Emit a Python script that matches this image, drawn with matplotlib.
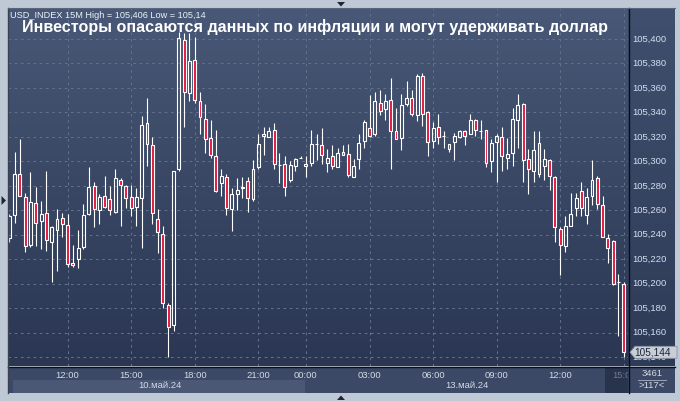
import numpy as np
import matplotlib
matplotlib.use('Agg')
import matplotlib.pyplot as plt
from matplotlib.colors import LinearSegmentedColormap
from matplotlib.patches import Polygon, Rectangle
from matplotlib.lines import Line2D
import matplotlib.transforms as mtransforms

# ---------------- data (USD_INDEX, 15M candles) ----------------
opens = [105.237, 105.256, 105.290, 105.271, 105.232, 105.266, 105.251, 105.258, 105.234, 105.244,
         105.254, 105.248, 105.217, 105.220, 105.230, 105.257, 105.280, 105.260, 105.272, 105.269,
         105.259, 105.285, 105.280, 105.271, 105.263, 105.270, 105.331, 105.313, 105.253, 105.241,
         105.183, 105.166, 105.294, 105.399, 105.356, 105.383, 105.349, 105.335, 105.319, 105.304,
         105.282, 105.287, 105.261, 105.273, 105.278, 105.284, 105.269, 105.295, 105.321, 105.320,
         105.326, 105.297, 105.298, 105.285, 105.296, 105.303, 105.296, 105.299, 105.314, 105.313,
         105.299, 105.304, 105.295, 105.308, 105.306, 105.287, 105.302, 105.317, 105.327, 105.322,
         105.348, 105.343, 105.350, 105.325, 105.319, 105.347, 105.352, 105.338, 105.370, 105.340,
         105.317, 105.328, 105.321, 105.314, 105.316, 105.320, 105.325, 105.322, 105.334, 105.325,
         105.326, 105.300, 105.316, 105.320, 105.303, 105.307, 105.334, 105.347, 105.302, 105.292,
         105.315, 105.296, 105.301, 105.287, 105.245, 105.231, 105.247, 105.262, 105.276, 105.256,
         105.272, 105.286, 105.264, 105.237, 105.235, 105.201, 105.200]
highs = [105.257, 105.308, 105.318, 105.274, 105.291, 105.279, 105.268, 105.292, 105.247, 105.261,
         105.258, 105.257, 105.232, 105.244, 105.265, 105.295, 105.283, 105.273, 105.288, 105.280,
         105.294, 105.286, 105.281, 105.281, 105.278, 105.337, 105.352, 105.320, 105.261, 105.247,
         105.184, 105.292, 105.406, 105.405, 105.405, 105.402, 105.357, 105.347, 105.334, 105.326,
         105.294, 105.290, 105.278, 105.286, 105.287, 105.287, 105.301, 105.322, 105.328, 105.328,
         105.331, 105.307, 105.304, 105.300, 105.303, 105.304, 105.304, 105.326, 105.322, 105.327,
         105.310, 105.313, 105.311, 105.313, 105.314, 105.302, 105.322, 105.334, 105.354, 105.357,
         105.358, 105.355, 105.368, 105.344, 105.355, 105.366, 105.358, 105.371, 105.372, 105.341,
         105.332, 105.339, 105.325, 105.314, 105.323, 105.326, 105.326, 105.339, 105.335, 105.334,
         105.326, 105.318, 105.322, 105.328, 105.319, 105.344, 105.355, 105.348, 105.310, 105.325,
         105.325, 105.310, 105.302, 105.288, 105.246, 105.255, 105.274, 105.274, 105.283, 105.278,
         105.301, 105.288, 105.272, 105.241, 105.236, 105.208, 105.201]
lows = [105.234, 105.250, 105.272, 105.226, 105.230, 105.231, 105.228, 105.227, 105.201, 105.210,
        105.238, 105.214, 105.214, 105.213, 105.228, 105.256, 105.246, 105.249, 105.262, 105.256,
        105.258, 105.247, 105.262, 105.255, 105.247, 105.229, 105.296, 105.249, 105.225, 105.180,
        105.140, 105.161, 105.292, 105.328, 105.349, 105.348, 105.322, 105.307, 105.303, 105.275,
        105.272, 105.256, 105.243, 105.260, 105.270, 105.259, 105.268, 105.294, 105.305, 105.320,
        105.294, 105.282, 105.272, 105.283, 105.292, 105.303, 105.287, 105.296, 105.301, 105.298,
        105.291, 105.294, 105.295, 105.305, 105.287, 105.287, 105.294, 105.311, 105.320, 105.321,
        105.338, 105.334, 105.294, 105.318, 105.309, 105.345, 105.337, 105.333, 105.329, 105.304,
        105.311, 105.314, 105.311, 105.308, 105.301, 105.319, 105.313, 105.322, 105.321, 105.318,
        105.295, 105.291, 105.283, 105.292, 105.294, 105.296, 105.311, 105.283, 105.273, 105.283,
        105.287, 105.285, 105.277, 105.234, 105.207, 105.226, 105.247, 105.255, 105.255, 105.249,
        105.264, 105.261, 105.238, 105.217, 105.199, 105.157, 105.140]
closes = [105.255, 105.290, 105.272, 105.231, 105.267, 105.250, 105.257, 105.236, 105.246, 105.253,
          105.249, 105.216, 105.215, 105.229, 105.256, 105.279, 105.261, 105.271, 105.263, 105.260,
          105.286, 105.281, 105.270, 105.262, 105.271, 105.330, 105.314, 105.258, 105.242, 105.184,
          105.165, 105.292, 105.401, 105.357, 105.382, 105.350, 105.336, 105.318, 105.305, 105.276,
          105.288, 105.262, 105.273, 105.277, 105.279, 105.270, 105.294, 105.314, 105.322, 105.325,
          105.298, 105.297, 105.279, 105.297, 105.302, 105.303, 105.298, 105.314, 105.314, 105.305,
          105.303, 105.296, 105.307, 105.305, 105.289, 105.296, 105.315, 105.332, 105.321, 105.349,
          105.341, 105.349, 105.325, 105.318, 105.346, 105.352, 105.339, 105.370, 105.339, 105.316,
          105.327, 105.320, 105.321, 105.310, 105.321, 105.325, 105.321, 105.334, 105.326, 105.325,
          105.299, 105.315, 105.321, 105.304, 105.306, 105.335, 105.346, 105.301, 105.294, 105.309,
          105.290, 105.302, 105.288, 105.246, 105.232, 105.247, 105.257, 105.270, 105.262, 105.271,
          105.285, 105.265, 105.238, 105.229, 105.200, 105.201, 105.144]

time_tick_idx = [11, 23, 35, 47, 56, 68, 80, 92, 104, 116]
time_tick_labels = ['12:00', '15:00', '18:00', '21:00', '00:00', '03:00', '06:00', '09:00', '12:00', '15:00']
date_labels = ['10.май.24', '13.май.24']
price_ticks = [105.14, 105.16, 105.18, 105.20, 105.22, 105.24, 105.26, 105.28,
               105.30, 105.32, 105.34, 105.36, 105.38, 105.40]
last_price = 105.144
title = 'Инвесторы опасаются данных по инфляции и могут удерживать доллар'
header = 'USD_INDEX 15M High = 105,406 Low = 105,14'
footer_count = '3461'
footer_bars = '>117<'

# ---------------- layout helpers ----------------
W, H = 680, 401
FONT = 'Liberation Sans'
fig = plt.figure(figsize=(W / 100, H / 100), dpi=100, facecolor='#bfc9d6')


def px_axes(x0, y0, x1, y1, **kw):
    return fig.add_axes([x0 / W, 1 - y1 / H, (x1 - x0) / W, (y1 - y0) / H], **kw)


def P(x, y):
    return (x / W, 1 - y / H)


grad = LinearSegmentedColormap.from_list('g', ['#485876', '#2a3652'])
XMIN, XMAX = -0.245, 116.8
YMIN, YMAX = 105.4 - 327 / 1223.6, 105.4 + 31 / 1223.6

# ---------------- main price panel ----------------
ax = px_axes(8, 8, 628, 366)
ax.imshow(np.linspace(0, 1, 256).reshape(-1, 1), cmap=grad, aspect='auto',
          extent=(0, 1, 0, 1), transform=ax.transAxes, zorder=0)
ax.set_xlim(XMIN, XMAX)
ax.set_ylim(YMIN, YMAX)
ax.set_axis_off()

grid_kw = dict(color='#62718e', lw=0.75, ls=(0, (2.5, 3.5)), zorder=1)
for v in price_ticks:
    ax.axhline(v, **grid_kw)
for i in time_tick_idx:
    ax.axvline(i, **grid_kw)

o = np.array(opens); h = np.array(highs); l = np.array(lows); c = np.array(closes)
idx = np.arange(len(o))
top = np.maximum(o, c)
bot = np.minimum(o, c)
ax.vlines(idx, top, h, color='white', lw=0.8, zorder=2)
ax.vlines(idx, l, bot, color='white', lw=0.8, zorder=2)
up = c >= o
ax.bar(idx[up], (top - bot)[up], bottom=bot[up], width=0.55, facecolor='none',
       edgecolor='white', lw=0.8, zorder=3)
ax.bar(idx[~up], (top - bot)[~up], bottom=bot[~up], width=0.55, facecolor='#e2163d',
       edgecolor='white', lw=0.8, zorder=3)

# header and title
t_head = fig.text(10 / W, 1 - 15.5 / H, header, color='#eef2f8', fontsize=7.2,
                  family=FONT, va='center', ha='left')
t_title = fig.text(22 / W, 1 - 27 / H, title, color='white', fontsize=11.8,
                   family=FONT, weight='bold', va='center', ha='left')
fig.canvas.draw()
r = fig.canvas.get_renderer()
for t, target in ((t_head, 195.0), (t_title, 585.0)):
    w = t.get_window_extent(r).width
    t.set_fontsize(t.get_fontsize() * target / w)

# ---------------- right price scale ----------------
axr = px_axes(628, 8, 675, 366)
axr.imshow(np.linspace(0, 1, 256).reshape(-1, 1), cmap=LinearSegmentedColormap.from_list(
    'g2', ['#3f4f6d', '#2e3b57']), aspect='auto', extent=(0, 1, 0, 1),
    transform=axr.transAxes, zorder=0)
axr.set_ylim(YMIN, YMAX)
axr.set_xlim(0, 1)
axr.set_axis_off()
bl = mtransforms.blended_transform_factory(axr.transAxes, axr.transData)
for v in price_ticks:
    axr.text(4 / 47, v, f'{v:.3f}'.replace('.', ','), transform=bl, color='#d4def0',
             fontsize=6.8, family=FONT, va='center', ha='left', clip_on=True)

# last price marker
poly = Polygon([P(630, 352.3), P(635, 346.3), P(677, 346.3), P(677, 358.3), P(635, 358.3)],
               closed=True, transform=fig.transFigure, facecolor='#c9cdd5',
               edgecolor='#8a93a3', lw=0.6, zorder=10)
fig.add_artist(poly)
fig.text(634 / W, 1 - 352.5 / H, f'{last_price:.3f}'.replace('.', ','), color='#1c2740',
         fontsize=7.2, family=FONT, va='center', ha='left', zorder=11)

# ---------------- time axis strip ----------------
axb = px_axes(8, 367, 628, 393)
axb.set_facecolor('#3b4966')
axb.set_xlim(XMIN, XMAX)
axb.set_ylim(0, 26)
axb.set_axis_off()
axb.add_patch(Rectangle((0, 0), 1, 1, transform=axb.transAxes, facecolor='#3b4966', zorder=0))
# date band for the first day and the current-bar zone
axb.add_patch(Rectangle(((13 - 8) / 620, 0), (305 - 13) / 620, 13 / 26, transform=axb.transAxes,
                        facecolor='#4a5876', zorder=1))
axb.add_patch(Rectangle(((605 - 8) / 620, 0), (628 - 605) / 620, 1, transform=axb.transAxes,
                        facecolor='#28334c', zorder=1))
for i, lab in zip(time_tick_idx, time_tick_labels):
    col = '#6d7c95' if i == time_tick_idx[-1] else '#d3d9e4'
    axb.text(i, 26 - 8, lab, color=col, fontsize=6.8, family=FONT, ha='center',
             va='center', clip_on=True, zorder=2)
axb.text(152 / 620 * 116.8 * 0 + (160 - 8) / 5.297 + XMIN, 26 - 18.7, date_labels[0],
         color='#d3d9e4', fontsize=6.8, family=FONT, ha='center', va='center', zorder=2)
axb.text((466.7 - 8) / 5.297 + XMIN, 26 - 18.7, date_labels[1], color='#d3d9e4',
         fontsize=6.8, family=FONT, ha='center', va='center', zorder=2)

# bottom-right info box
axc = px_axes(628, 367, 675, 393)
axc.set_facecolor('#3b4966')
axc.set_xlim(0, 47)
axc.set_ylim(26, 0)
axc.set_axis_off()
axc.add_patch(Rectangle((0, 0), 47, 26, facecolor='#3b4966', zorder=0))
axc.text(24, 6.5, footer_count, color='#d3d9e4', fontsize=6.8, family=FONT,
         ha='center', va='center')
axc.plot([10, 38], [13, 13], color='#aab4c6', lw=0.6)
axc.text(24, 19, footer_bars, color='#d3d9e4', fontsize=6.8, family=FONT,
         ha='center', va='center')

# ---------------- frame lines and markers ----------------
for (x0, y0, x1, y1, col, lw) in [
        (8, 366.5, 675, 366.5, '#0a0e18', 1.0),
        (628.5, 8, 628.5, 393, '#0a0e18', 1.0),
        (7.5, 8, 7.5, 393, '#3a4150', 1.0),
        (8, 7.6, 675, 7.6, '#58657c', 0.8)]:
    fig.add_artist(Line2D([x0 / W, x1 / W], [1 - y0 / H, 1 - y1 / H],
                          transform=fig.transFigure, color=col, lw=lw))

for pts in ([P(337, 2), P(345, 2), P(341, 6.5)],
            [P(337, 400), P(345, 400), P(341, 395.5)],
            [P(1.5, 196), P(1.5, 205), P(6, 200.5)]):
    fig.add_artist(Polygon(pts, closed=True, transform=fig.transFigure,
                           facecolor='#1d2537', edgecolor='none'))

fig.savefig('out.png', dpi=100, facecolor=fig.get_facecolor())
